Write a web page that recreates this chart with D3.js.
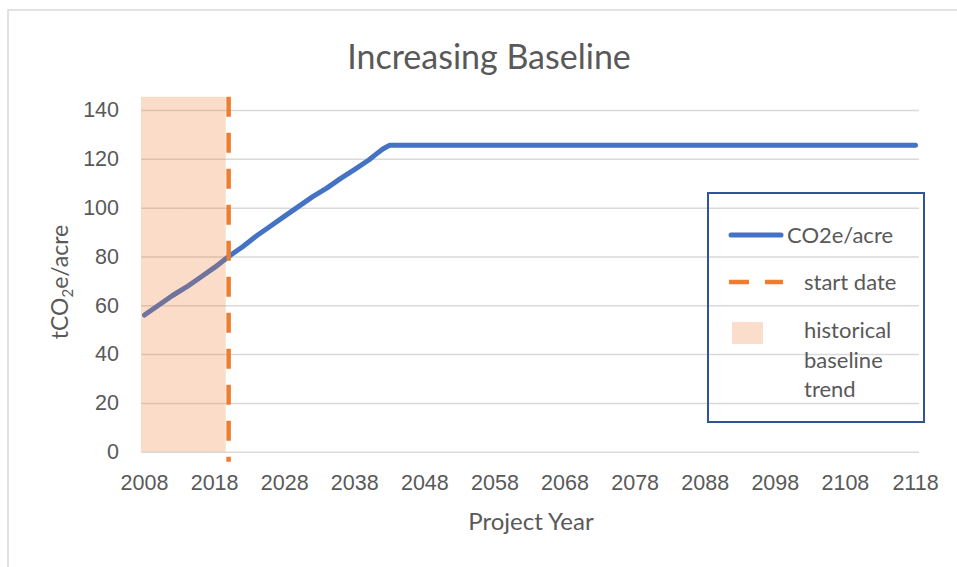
<!DOCTYPE html>
<html>
<head>
<meta charset="utf-8">
<script src="https://cdn.jsdelivr.net/npm/d3@7"></script>
<style>
  body { margin: 0; background: #fff; }
  svg { display: block; font-family: Lato, "Open Sans", sans-serif; }
  .axis path, .axis line { display: none; }
  .axis text { fill: #595959; font-size: 21.5px; }
  .grid line { stroke: #d9d9d9; stroke-width: 1.5; }
  .grid path { display: none; }
</style>
</head>
<body>
<div class="chart"></div>
<script>
// categories (every project year drawn on the axis)
var firstYear = 2008;
var lastYear = 2118;
var tickYears = [2008, 2018, 2028, 2038, 2048, 2058, 2068, 2078, 2088, 2098, 2108, 2118];
var yTicks = [0, 20, 40, 60, 80, 100, 120, 140];

// baseline series at its break points
var lineYears = [2008, 2010, 2012, 2014, 2016, 2018, 2020, 2022, 2024, 2026, 2028, 2030, 2032, 2034, 2036, 2038, 2040, 2041, 2042, 2043, 2118];
var lineValues = [56, 60, 64, 67.5, 71.5, 75.5, 80, 84, 88.5, 92.5, 96.5, 100.5, 104.5, 108, 112, 115.7, 119.5, 121.8, 124, 125.6, 125.6];

// historical baseline trend columns and the start date marker
var historyYears = [2008, 2009, 2010, 2011, 2012, 2013, 2014, 2015, 2016, 2017, 2018, 2019];
var historyTop = 145.4;
var startDate = 2020;
var startExtent = [-4.1, 145.4];

var width = 957, height = 567;
var plot = { left: 141, right: 919, top: 110, bottom: 451.7 };

var svg = d3.select("div.chart").append("svg")
  .attr("width", width)
  .attr("height", height);

// chart frame
svg.append("path")
  .attr("d", "M 8 567 V 10 H 957")
  .attr("fill", "none")
  .attr("stroke", "#d9d9d9")
  .attr("stroke-width", 1.5);

var xScale = d3.scaleBand()
  .domain(d3.range(firstYear, lastYear + 1))
  .range([plot.left, plot.right])
  .padding(0);

var xMid = d => xScale(d) + xScale.bandwidth() / 2;

var yScale = d3.scaleLinear()
  .domain([0, 140])
  .range([plot.bottom, plot.top]);

// y grid
svg.append("g")
  .attr("class", "grid")
  .attr("transform", `translate(${plot.left},0)`)
  .call(d3.axisLeft(yScale).tickValues(yTicks)
    .tickSize(-(plot.right - plot.left)).tickFormat(""));

// axes
svg.append("g")
  .attr("class", "y axis")
  .attr("transform", `translate(${plot.left - 22},0)`)
  .call(d3.axisLeft(yScale).tickValues(yTicks).tickSize(0).tickPadding(0));

svg.append("g")
  .attr("class", "x axis")
  .attr("transform", `translate(0,${plot.bottom})`)
  .call(d3.axisBottom(xScale).tickValues(tickYears).tickSize(0).tickPadding(23));

// baseline line
var line = d3.line()
  .x((d, i) => xMid(lineYears[i]))
  .y(d => yScale(d));

svg.append("path")
  .datum(lineValues)
  .attr("d", line)
  .attr("fill", "none")
  .attr("stroke", "#4472c4")
  .attr("stroke-width", 5)
  .attr("stroke-linecap", "round")
  .attr("stroke-linejoin", "round");

// historical shade (drawn over, semi transparent as one layer)
svg.append("g")
  .attr("opacity", 0.26)
  .selectAll("rect")
  .data(historyYears)
  .enter()
  .append("rect")
  .attr("x", d => xScale(d))
  .attr("width", xScale.bandwidth() + 0.6)
  .attr("y", yScale(historyTop))
  .attr("height", yScale(0) - yScale(historyTop))
  .attr("fill", "#ed7d31");

// start date
svg.append("line")
  .attr("x1", xMid(startDate))
  .attr("x2", xMid(startDate))
  .attr("y1", yScale(startExtent[1]))
  .attr("y2", yScale(startExtent[0]))
  .attr("stroke", "#ed7d31")
  .attr("stroke-width", 4.5)
  .attr("stroke-dasharray", "20 16");

// titles
svg.append("text")
  .attr("x", 489)
  .attr("y", 57)
  .attr("dy", "0.35em")
  .attr("text-anchor", "middle")
  .attr("fill", "#595959")
  .style("font-size", "34px")
  .text("Increasing Baseline");

svg.append("text")
  .attr("x", 531)
  .attr("y", 522)
  .attr("dy", "0.35em")
  .attr("text-anchor", "middle")
  .attr("fill", "#595959")
  .style("font-size", "24px")
  .text("Project Year");

var yTitle = svg.append("text")
  .attr("transform", "translate(60,282) rotate(-90)")
  .attr("dy", "0.35em")
  .attr("text-anchor", "middle")
  .attr("fill", "#595959")
  .style("font-size", "23px");
yTitle.append("tspan").text("tCO");
yTitle.append("tspan").attr("dy", "5").style("font-size", "15px").text("2");
yTitle.append("tspan").attr("dy", "-5").text("e/acre");

// legend
var legend = svg.append("g");
legend.append("rect")
  .attr("x", 708).attr("y", 193)
  .attr("width", 216).attr("height", 229)
  .attr("fill", "none")
  .attr("stroke", "#2f5597")
  .attr("stroke-width", 2);

legend.append("line")
  .attr("x1", 731).attr("x2", 781)
  .attr("y1", 235).attr("y2", 235)
  .attr("stroke", "#4472c4")
  .attr("stroke-width", 5)
  .attr("stroke-linecap", "round");

legend.append("line")
  .attr("x1", 729).attr("x2", 783)
  .attr("y1", 282).attr("y2", 282)
  .attr("stroke", "#ed7d31")
  .attr("stroke-width", 4.5)
  .attr("stroke-dasharray", "20 16");

legend.append("rect")
  .attr("x", 732).attr("y", 322)
  .attr("width", 31).attr("height", 22)
  .attr("fill", "#ed7d31")
  .attr("fill-opacity", 0.26);

var legendTexts = [
  { x: 787, y: 235, t: "CO2e/acre" },
  { x: 804, y: 282, t: "start date" },
  { x: 804, y: 330, t: "historical" },
  { x: 804, y: 360, t: "baseline" },
  { x: 804, y: 389, t: "trend" }
];
legend.selectAll("text.lg")
  .data(legendTexts)
  .enter()
  .append("text")
  .attr("class", "lg")
  .attr("x", d => d.x)
  .attr("y", d => d.y)
  .attr("dy", "0.35em")
  .attr("fill", "#595959")
  .style("font-size", "22px")
  .text(d => d.t);
</script>
</body>
</html>
